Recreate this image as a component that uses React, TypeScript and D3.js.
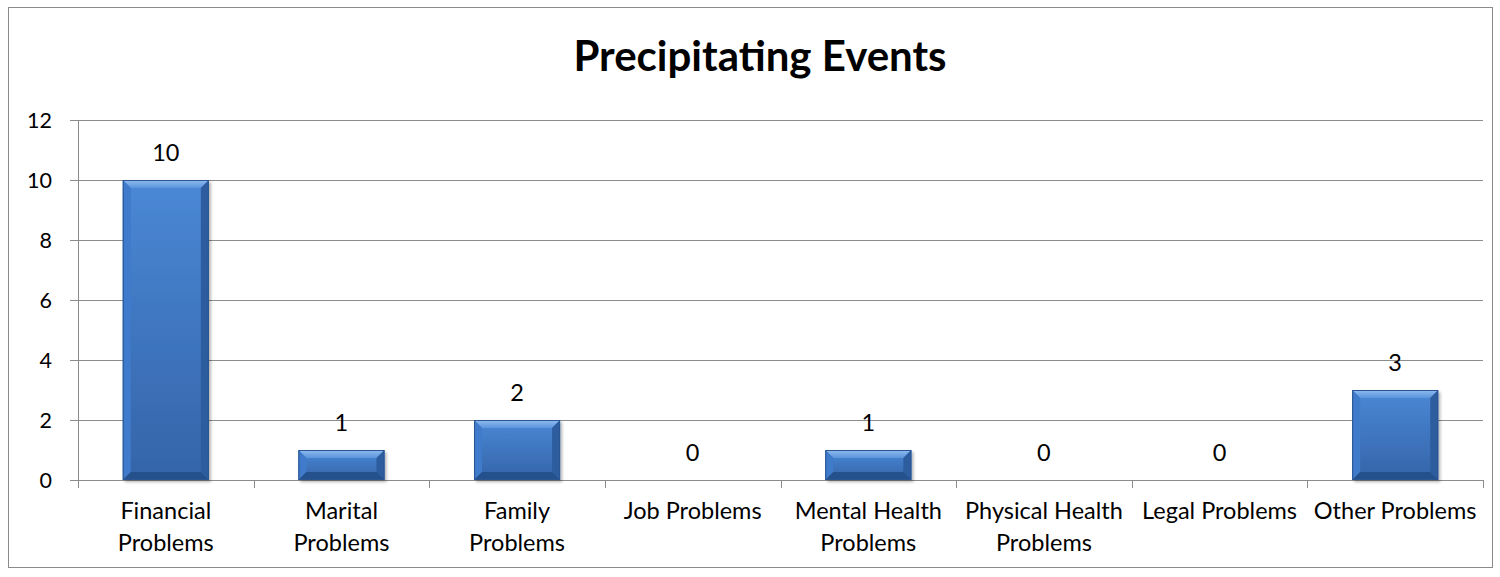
import React from "react";
import * as d3 from "d3";

const categories = [
  ["Financial", "Problems"],
  ["Marital", "Problems"],
  ["Family", "Problems"],
  ["Job Problems"],
  ["Mental Health", "Problems"],
  ["Physical Health", "Problems"],
  ["Legal Problems"],
  ["Other Problems"],
];
const values = [10, 1, 2, 0, 1, 0, 0, 3];
const yTicks = [0, 2, 4, 6, 8, 10, 12];
const title = "Precipitating Events";

const W = 1500, H = 577;
const FONT = "Lato, 'Open Sans', sans-serif";

export default function App() {
  const left = 78, right = 1483, top = 120, bottom = 480;
  const x = d3.scaleBand<number>().domain(d3.range(values.length)).range([left, right]).paddingInner(0.51).paddingOuter(0.255);
  const y = d3.scaleLinear().domain([0, 12]).range([bottom, top]);
  const step = (right - left) / values.length;
  const bw = x.bandwidth();
  const grid = "#8c8c8c";
  return (
    <svg width={W} height={H} style={{ position: "absolute", left: 0, top: 0 }}>
      <defs>
        <linearGradient id="barG" x1="0" y1="0" x2="0" y2="1">
          <stop offset="0" stopColor="#4a88d6" />
          <stop offset="1" stopColor="#3464a8" />
        </linearGradient>
        <linearGradient id="topBev" x1="0" y1="0" x2="0" y2="1">
          <stop offset="0" stopColor="#8fbcf0" />
          <stop offset="1" stopColor="#5b95dc" />
        </linearGradient>
        <filter id="sh" x="-10%" y="-10%" width="130%" height="130%">
          <feDropShadow dx="2" dy="2" stdDeviation="1.5" floodColor="#000" floodOpacity="0.3" />
        </filter>
      </defs>
      <rect x={8.5} y={7.5} width={1484} height={560} fill="#fff" stroke="#8a8a8a" strokeWidth={1} />
      <text x={760} y={71} textAnchor="middle" fontFamily={FONT} fontWeight={700} fontSize={42} fill="#000">{title}</text>
      {yTicks.map(t => (
        <g key={t}>
          <line x1={left - 8} x2={right} y1={Math.round(y(t)) + 0.5} y2={Math.round(y(t)) + 0.5} stroke={grid} strokeWidth={1} />
          <text x={52} y={y(t) + 8} textAnchor="end" fontFamily={FONT} fontSize={21.5} fill="#000">{t}</text>
        </g>
      ))}
      <line x1={left + 0.5} x2={left + 0.5} y1={top} y2={bottom + 8} stroke={grid} />
      {d3.range(values.length + 1).map(i => (
        <line key={i} x1={Math.round(left + i * step) + 0.5} x2={Math.round(left + i * step) + 0.5} y1={bottom} y2={bottom + 8} stroke={grid} />
      ))}
      {values.map((v, i) => {
        const bx = x(i)!;
        const by = y(v);
        const bh = bottom - by;
        const cx = bx + bw / 2;
        const b = Math.min(8, bh / 2);
        return (
          <g key={i}>
            {v > 0 && (
              <g>
                <rect x={bx} y={by} width={bw} height={bh} fill="url(#barG)" filter="url(#sh)" />
                <polygon points={`${bx},${by} ${bx + bw},${by} ${bx + bw - b},${by + b} ${bx + b},${by + b}`} fill="url(#topBev)" />
                <polygon points={`${bx},${by} ${bx + b},${by + b} ${bx + b},${bottom - b} ${bx},${bottom}`} fill="#3f7acb" />
                <polygon points={`${bx + bw},${by} ${bx + bw - b},${by + b} ${bx + bw - b},${bottom - b} ${bx + bw},${bottom}`} fill="#2d5d9f" />
                <polygon points={`${bx},${bottom} ${bx + b},${bottom - b} ${bx + bw - b},${bottom - b} ${bx + bw},${bottom}`} fill="#24508c" />
                <rect x={bx + 0.5} y={by + 0.5} width={bw - 1} height={bh - 1} fill="none" stroke="#2a5590" strokeWidth={1} />
              </g>
            )}
            <text x={cx} y={by - 19} textAnchor="middle" fontFamily={FONT} fontSize={23.5} fill="#000">{v}</text>
            {categories[i].map((line, j) => (
              <text key={j} x={left + step * (i + 0.5)} y={519 + j * 32} textAnchor="middle" fontFamily={FONT} fontSize={23.5} fill="#000">{line}</text>
            ))}
          </g>
        );
      })}
    </svg>
  );
}
